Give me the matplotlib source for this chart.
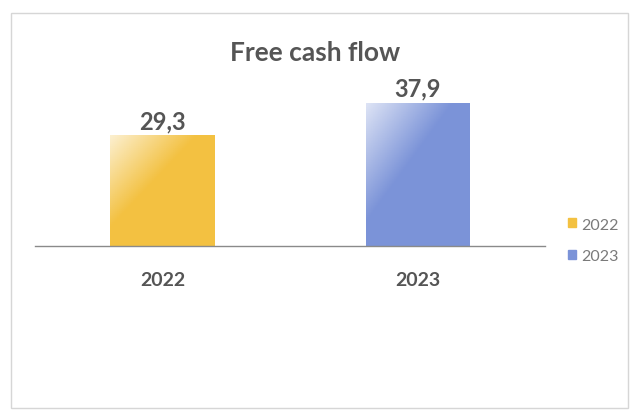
import numpy as np
import matplotlib.pyplot as plt
from matplotlib.patches import Rectangle

years = ["2022", "2023"]
values = [29.3, 37.9]
labels = ["29,3", "37,9"]
colors = ["#f3c141", "#7b93d8"]

plt.rcParams['font.family'] = ['Lato', 'DejaVu Sans']

fig = plt.figure(figsize=(6.38, 4.14), dpi=100)
fig.patch.set_facecolor("white")

# light frame of the chart area
fig.add_artist(Rectangle((0.018, 0.012), 0.967, 0.955, transform=fig.transFigure,
                         fill=False, edgecolor="#d6d6d6", linewidth=1))

ax = fig.add_axes([0.055, 0.403, 0.80, 0.365])
x = np.arange(len(years))
bars = ax.bar(x, values, width=0.41, color=colors, zorder=2)

# soft gradient over each bar (light top-left corner)
for b in bars:
    bx, by = b.get_x(), b.get_y()
    w, h = b.get_width(), b.get_height()
    img = np.ones((60, 60, 4))
    gx, gy = np.meshgrid(np.linspace(0, 1, 60), np.linspace(0, 1, 60))
    img[..., 3] = np.clip(0.75 - 0.9 * gx - 0.9 * (1 - gy), 0, 1)
    im = ax.imshow(img, extent=(bx, bx + w, by, by + h), aspect="auto",
                   origin="lower", zorder=3)
    im.set_clip_path(b)

for xi, v, lab in zip(x, values, labels):
    ax.text(xi, v + 0.9, lab, ha="center", va="bottom", fontsize=17,
            fontweight="bold", color="#555555")

ax.set_xlim(-0.5, 1.5)
ax.set_ylim(0, 40)
ax.set_xticks(x)
ax.set_xticklabels(years, fontsize=14, fontweight="bold", color="#555555")
ax.tick_params(axis="x", length=0, pad=18)
ax.set_yticks([])
for s in ["top", "right", "left"]:
    ax.spines[s].set_visible(False)
ax.spines["bottom"].set_color("#8a8a8a")
ax.spines["bottom"].set_linewidth(1)
ax.set_facecolor("none")

fig.text(0.494, 0.872, "Free cash flow", ha="center", va="center",
         fontsize=19, fontweight="bold", color="#555555")

handles = [Rectangle((0, 0), 1, 1, color=c) for c in colors]
fig.legend(handles, years, loc="center left", bbox_to_anchor=(0.868, 0.417),
           frameon=False, fontsize=11.5, labelcolor="#7a7a7a",
           handlelength=0.5, handleheight=0.5, handletextpad=0.3,
           labelspacing=1.1)

fig.savefig("out.png", dpi=100)
